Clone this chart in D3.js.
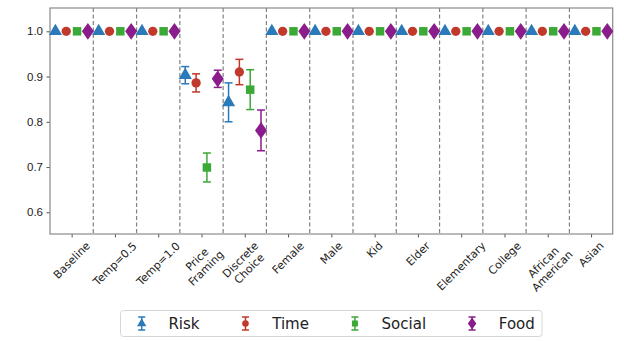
<!DOCTYPE html>
<html>
<head>
<meta charset="utf-8">
<script src="https://cdn.jsdelivr.net/npm/d3@7"></script>
<style>
  body { margin: 0; background: #fff; }
  svg { font-family: "DejaVu Sans", sans-serif; }
</style>
</head>
<body>
<svg width="624" height="341"></svg>
<script>
const categories = ["Baseline", "Temp=0.5", "Temp=1.0", "Price\nFraming", "Discrete\nChoice",
  "Female", "Male", "Kid", "Elder", "Elementary", "College", "African\nAmerican", "Asian"];
const seriesNames = ["Risk", "Time", "Social", "Food"];
const riskValues   = [1, 1, 1, 0.903, 0.843, 1, 1, 1, 1, 1, 1, 1, 1];
const riskErrors   = [0, 0, 0, 0.019, 0.043, 0, 0, 0, 0, 0, 0, 0, 0];
const timeValues   = [1, 1, 1, 0.886, 0.910, 1, 1, 1, 1, 1, 1, 1, 1];
const timeErrors   = [0, 0, 0, 0.020, 0.028, 0, 0, 0, 0, 0, 0, 0, 0];
const socialValues = [1, 1, 1, 0.699, 0.871, 1, 1, 1, 1, 1, 1, 1, 1];
const socialErrors = [0, 0, 0, 0.032, 0.044, 0, 0, 0, 0, 0, 0, 0, 0];
const foodValues   = [1, 1, 1, 0.895, 0.781, 1, 1, 1, 1, 1, 1, 1, 1];
const foodErrors   = [0, 0, 0, 0.019, 0.045, 0, 0, 0, 0, 0, 0, 0, 0];
const yTicks = [0.6, 0.7, 0.8, 0.9, 1.0];

const series = [
  {name: "Risk", values: riskValues, errors: riskErrors, color: "#2a7ab9", symbol: d3.symbolTriangle, size: 75},
  {name: "Time", values: timeValues, errors: timeErrors, color: "#c0392b", symbol: d3.symbolCircle, size: 68},
  {name: "Social", values: socialValues, errors: socialErrors, color: "#3aa935", symbol: d3.symbolSquare, size: 72},
  {name: "Food", values: foodValues, errors: foodErrors, color: "#8b1c8b", symbol: d3.symbolDiamond, size: 80}
];

const svg = d3.select("svg");
const margin = {top: 8, right: 11.3, bottom: 107, left: 50};
const width = 624 - margin.left - margin.right;
const height = 341 - margin.top - margin.bottom;
const g = svg.append("g").attr("transform", `translate(${margin.left},${margin.top})`);

const x = d3.scaleLinear().domain([-0.5, categories.length - 0.5]).range([0, width]);
const y = d3.scaleLinear().domain([0.552, 1.0515]).range([height, 0]);

// dashed separators between categories
g.selectAll(".sep")
  .data(d3.range(categories.length - 1))
  .enter().append("line")
  .attr("x1", d => x(d + 0.5)).attr("x2", d => x(d + 0.5))
  .attr("y1", 0).attr("y2", height)
  .attr("stroke", "#808080").attr("stroke-width", 1.2)
  .attr("stroke-dasharray", "4,2.5");

// y axis
const yAxis = g.append("g")
  .call(d3.axisLeft(y).tickValues(yTicks).tickFormat(d3.format(".1f")).tickSize(3.5).tickPadding(3.5));
yAxis.select(".domain").remove();
yAxis.selectAll("line").attr("stroke", "#555");
yAxis.selectAll("text").attr("font-size", 11.5).attr("fill", "#222");

// x ticks
const xAxis = g.append("g").attr("transform", `translate(0,${height})`)
  .call(d3.axisBottom(x).tickValues(d3.range(categories.length)).tickSize(3.5).tickFormat(""));
xAxis.select(".domain").remove();
xAxis.selectAll("line").attr("stroke", "#555");

// rotated x labels, box centred under each tick
categories.forEach((c, i) => {
  const lines = c.split("\n");
  const lg = g.append("g");
  const t = lg.append("text")
    .attr("text-anchor", "middle")
    .attr("font-size", 11)
    .attr("fill", "#222");
  lines.forEach((ln, k) => {
    t.append("tspan")
      .attr("x", 0)
      .attr("y", (k - (lines.length - 1) / 2) * 12.5)
      .attr("dy", "0.35em")
      .text(ln);
  });
  const bb = t.node().getBBox();
  const half = (bb.width + bb.height) / 2 * Math.SQRT1_2;
  lg.attr("transform", `translate(${x(i)},${height + 5 + half}) rotate(-45)`);
});

// frame
g.append("rect")
  .attr("width", width).attr("height", height)
  .attr("fill", "none").attr("stroke", "#8a8a8a").attr("stroke-width", 1.2);

// error bars and markers
const offsets = [-0.375, -0.125, 0.125, 0.375];
series.forEach((s, si) => {
  const sg = g.append("g");
  const pts = s.values.map((v, i) => ({xv: i + offsets[si], v: v, e: s.errors[i]}));
  const eb = sg.selectAll(".eb").data(pts.filter(p => p.e > 0)).enter().append("g")
    .attr("stroke", s.color).attr("stroke-width", 1.5);
  eb.append("line")
    .attr("x1", p => x(p.xv)).attr("x2", p => x(p.xv))
    .attr("y1", p => y(p.v - p.e)).attr("y2", p => y(p.v + p.e));
  [-1, 1].forEach(sign => {
    eb.append("line")
      .attr("x1", p => x(p.xv) - 4).attr("x2", p => x(p.xv) + 4)
      .attr("y1", p => y(p.v + sign * p.e)).attr("y2", p => y(p.v + sign * p.e));
  });
  sg.selectAll(".pt").data(pts).enter().append("path")
    .attr("transform", p => `translate(${x(p.xv)},${y(p.v)})${s.symbol === d3.symbolDiamond ? " scale(1.25,1)" : ""}`)
    .attr("d", d3.symbol().type(s.symbol).size(s.size))
    .attr("fill", s.color);
});

// legend
const leg = svg.append("g");
const legBox = leg.append("rect")
  .attr("x", 120.5).attr("y", 310.5).attr("height", 26).attr("rx", 3)
  .attr("fill", "#fff").attr("stroke", "#d6d6d6");
let lx = 141.7;
series.forEach(s => {
  const e = leg.append("g").attr("transform", `translate(${lx},323.5)`);
  e.append("line").attr("y1", -6.5).attr("y2", 6.5).attr("stroke", s.color).attr("stroke-width", 1.5);
  e.append("line").attr("x1", -3.5).attr("x2", 3.5).attr("y1", -6.5).attr("y2", -6.5).attr("stroke", s.color).attr("stroke-width", 1.5);
  e.append("line").attr("x1", -3.5).attr("x2", 3.5).attr("y1", 6.5).attr("y2", 6.5).attr("stroke", s.color).attr("stroke-width", 1.5);
  e.append("path")
    .attr("d", d3.symbol().type(s.symbol).size(s.size * 0.5))
    .attr("transform", s.symbol === d3.symbolDiamond ? "scale(1.25,1)" : null)
    .attr("fill", s.color);
  const t = e.append("text").attr("x", 26.7).attr("dy", "0.35em")
    .attr("font-size", 15).attr("fill", "#222").text(s.name);
  lx += 26.7 + t.node().getComputedTextLength() + 46;
});
legBox.attr("width", 542 - 120.5);
</script>
</body>
</html>
